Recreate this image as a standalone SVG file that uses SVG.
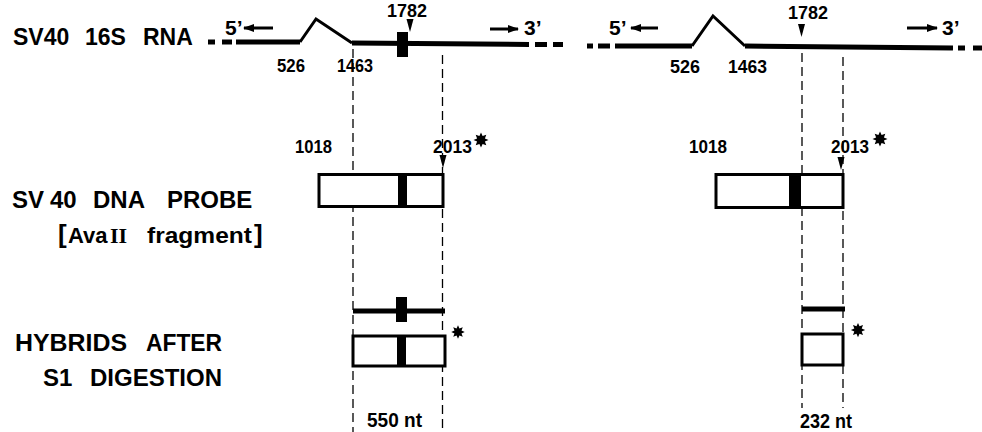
<svg xmlns="http://www.w3.org/2000/svg" xmlns:xlink="http://www.w3.org/1999/xlink" width="982" height="432" viewBox="0 0 982 432">
<style>
.t{font-family:"Liberation Sans",Arial,sans-serif;font-weight:bold;fill:#000}
.lab{font-size:24px}
.num{font-size:19px}
.end{font-size:21px}
.rna{stroke:#000;stroke-width:5;fill:none}
.peak{stroke:#000;stroke-width:3;fill:none;stroke-linejoin:miter}
.dash{stroke:#000;stroke-width:1.3;stroke-dasharray:9 5;fill:none}
.box{fill:#fff;stroke:#000;stroke-width:3}
.arr{stroke:#000;stroke-width:3;fill:none}
</style>
<defs>
<marker id="ah" markerUnits="userSpaceOnUse" markerWidth="12" markerHeight="10" refX="10" refY="4" orient="auto">
<path d="M0,0 L11,4 L0,8 z" fill="#000"/>
</marker>
<polygon id="star" points="0,-7.5 1.6,-3.9 5.3,-5.3 3.9,-1.6 7.5,0 3.9,1.6 5.3,5.3 1.6,3.9 0,7.5 -1.6,3.9 -5.3,5.3 -3.9,1.6 -7.5,0 -3.9,-1.6 -5.3,-5.3 -1.6,-3.9" fill="#000"/>
<polygon id="tri" points="-3.5,0 3.5,0 0,13" fill="#000"/>
</defs>
<rect width="982" height="432" fill="#fff"/>

<g id="labels">
<text class="t" font-size="23" y="45"><tspan x="13">SV40</tspan><tspan x="85">16S</tspan><tspan x="143">RNA</tspan></text>
<text class="t lab" y="208"><tspan x="12">SV</tspan><tspan x="50">40</tspan><tspan x="93">DNA</tspan><tspan x="167">PROBE</tspan></text>
<text class="t" x="58" y="243" font-size="26" font-weight="normal">[</text>
<text class="t" x="68" y="243" font-size="22">Ava</text>
<text x="110" y="243" font-size="22" font-family="Liberation Serif,serif" font-weight="bold">II</text>
<text class="t" x="147" y="243" font-size="22" textLength="105" lengthAdjust="spacingAndGlyphs">fragment</text>
<text class="t" x="254" y="243" font-size="26" font-weight="normal">]</text>
<text class="t lab" x="15" y="351" textLength="112" lengthAdjust="spacingAndGlyphs">HYBRIDS</text>
<text class="t lab" x="146" y="351" textLength="76" lengthAdjust="spacingAndGlyphs">AFTER</text>
<text class="t lab" x="43" y="386">S1</text>
<text class="t lab" x="90" y="386" textLength="132" lengthAdjust="spacingAndGlyphs">DIGESTION</text>
</g>

<g id="connectors">
<line class="dash" x1="353" y1="49" x2="353" y2="432"/>
<line class="dash" x1="442.5" y1="55" x2="442.5" y2="432"/>
<line class="dash" x1="802" y1="53" x2="802" y2="408"/>
<line class="dash" x1="843" y1="57" x2="843" y2="408"/>
</g>

<g id="rna-left">
<line class="rna" x1="208" y1="42" x2="215" y2="42"/>
<line class="rna" x1="222" y1="42" x2="232" y2="42"/>
<line class="rna" x1="236" y1="42" x2="300" y2="42"/>
<polyline class="peak" points="300,42 316,19 352,43"/>
<line class="rna" x1="352" y1="43" x2="529" y2="44.5"/>
<line class="rna" x1="535" y1="44.5" x2="547" y2="44.5"/>
<line class="rna" x1="553" y1="44.5" x2="563" y2="44.5"/>
<rect x="397" y="32" width="11" height="25" fill="#000"/>
<use xlink:href="#tri" x="410" y="19"/>
<text class="t" x="387" y="17" font-size="17.5" textLength="40" lengthAdjust="spacingAndGlyphs">1782</text>
<text class="t end" x="225" y="35">5’</text>
<line class="arr" x1="273" y1="28" x2="244" y2="28" marker-end="url(#ah)"/>
<line class="arr" x1="490" y1="29" x2="518" y2="29" marker-end="url(#ah)"/>
<text class="t end" x="524" y="35">3’</text>
<text class="t num" x="277" y="72" textLength="28" lengthAdjust="spacingAndGlyphs">526</text>
<text class="t num" x="337" y="72" textLength="36" lengthAdjust="spacingAndGlyphs">1463</text>
</g>

<g id="rna-right">
<line class="rna" x1="587" y1="46" x2="593" y2="46"/>
<line class="rna" x1="598" y1="46" x2="610" y2="46"/>
<line class="rna" x1="615" y1="46" x2="692" y2="46"/>
<polyline class="peak" points="692,46 713,16 745,46"/>
<line class="rna" x1="745" y1="46" x2="953" y2="48"/>
<line class="rna" x1="958" y1="48" x2="965" y2="48"/>
<line class="rna" x1="973" y1="48" x2="982" y2="48"/>
<use xlink:href="#tri" x="801.5" y="24"/>
<text class="t num" x="788" y="19" textLength="40" lengthAdjust="spacingAndGlyphs">1782</text>
<text class="t end" x="609" y="35">5’</text>
<line class="arr" x1="658" y1="28" x2="631" y2="28" marker-end="url(#ah)"/>
<line class="arr" x1="907" y1="28" x2="937" y2="28" marker-end="url(#ah)"/>
<text class="t end" x="942" y="35">3’</text>
<text class="t num" x="670" y="73" textLength="30" lengthAdjust="spacingAndGlyphs">526</text>
<text class="t num" x="728" y="73" textLength="39" lengthAdjust="spacingAndGlyphs">1463</text>
</g>

<g id="probe-left">
<rect class="box" x="319" y="174.5" width="124" height="32"/>
<rect x="398" y="174" width="9" height="33" fill="#000"/>
<use xlink:href="#tri" x="443" y="155"/>
<text class="t num" x="295" y="153" textLength="37" lengthAdjust="spacingAndGlyphs">1018</text>
<text class="t num" x="433" y="153" textLength="39" lengthAdjust="spacingAndGlyphs">2013</text>
<use xlink:href="#star" x="481" y="140"/>
</g>

<g id="probe-right">
<rect class="box" x="716" y="174.5" width="127" height="33"/>
<rect x="789" y="174" width="12" height="34" fill="#000"/>
<use xlink:href="#tri" x="841" y="157"/>
<text class="t num" x="689" y="153" textLength="38" lengthAdjust="spacingAndGlyphs">1018</text>
<text class="t num" x="831" y="153" textLength="38" lengthAdjust="spacingAndGlyphs">2013</text>
<use xlink:href="#star" x="880" y="139"/>
</g>

<g id="hybrid-left">
<line class="rna" x1="353" y1="311" x2="445" y2="311" stroke-width="4.5"/>
<rect x="396" y="297" width="11" height="25" fill="#000"/>
<rect class="box" x="353" y="336" width="92" height="30"/>
<rect x="397" y="335" width="9" height="32" fill="#000"/>
<use xlink:href="#star" transform="translate(458,332) scale(0.9)"/>
<text class="t" x="367" y="427" font-size="20" textLength="55" lengthAdjust="spacingAndGlyphs">550 nt</text>
</g>

<g id="hybrid-right">
<line class="rna" x1="802" y1="309" x2="845" y2="309"/>
<rect class="box" x="802" y="334" width="41" height="31"/>
<use xlink:href="#star" transform="translate(858,330) scale(0.95)"/>
<text class="t" x="800" y="428" font-size="20" textLength="52" lengthAdjust="spacingAndGlyphs">232 nt</text>
</g>
</svg>
